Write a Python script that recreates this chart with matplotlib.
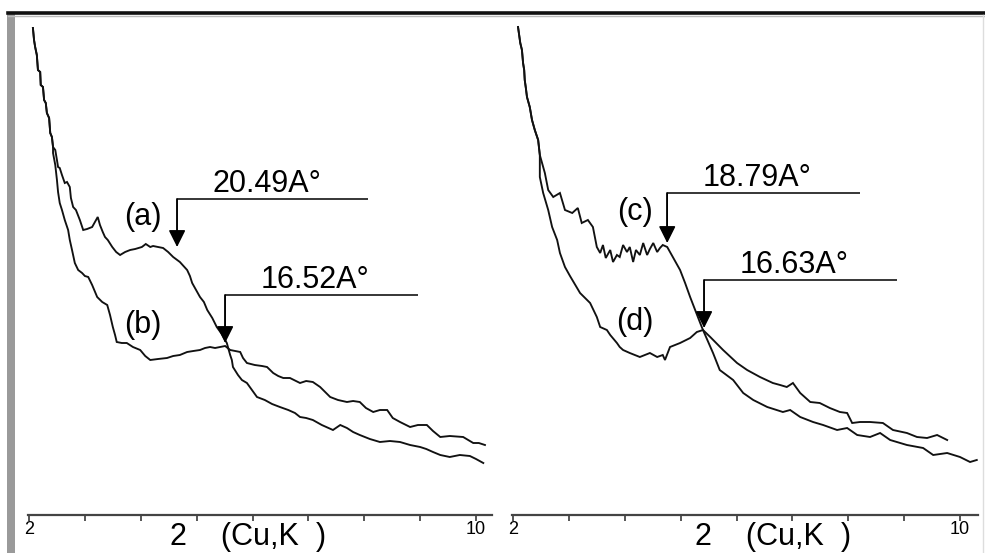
import matplotlib
matplotlib.use("Agg")
import matplotlib.pyplot as plt
from matplotlib.lines import Line2D
from matplotlib.patches import Rectangle

plt.rcParams['font.family'] = ['Liberation Sans', 'DejaVu Sans']

# ---- XRD patterns, 2-theta (deg) vs. intensity (a.u.) ----
# shared low-angle rise of samples (a) and (b)
two_theta_ab_start = [2.07, 2.09, 2.11, 2.14, 2.16, 2.20, 2.21, 2.25, 2.27, 2.30,
                      2.32, 2.36, 2.38, 2.41, 2.43]
intensity_ab_start = [488, 476, 469, 461, 446, 444, 431, 429, 416, 413,
                      403, 398, 383, 379, 369]

two_theta_a = [2.47, 2.50, 2.52, 2.55, 2.59, 2.64, 2.68, 2.73, 2.75, 2.79,
               2.84, 2.91, 2.97, 3.04, 3.13, 3.18, 3.23, 3.27, 3.32, 3.36,
               3.41, 3.49, 3.56, 3.63, 3.72, 3.81, 3.90, 4.02, 4.09, 4.17,
               4.22, 4.31, 4.40, 4.49, 4.58, 4.70, 4.83, 4.88, 4.92, 4.99,
               5.06, 5.13, 5.19, 5.28, 5.36, 5.45, 5.54, 5.60, 5.63, 5.65,
               5.74, 5.81, 5.90, 5.99, 6.08, 6.22, 6.35, 6.49, 6.64, 6.76,
               6.85, 6.96, 7.08, 7.24, 7.44, 7.57, 7.69, 7.80, 7.92, 8.10,
               8.28, 8.46, 8.64, 8.82, 9.00, 9.11, 9.23, 9.36, 9.53, 9.71,
               9.89, 10.00, 10.13]
intensity_a = [366, 356, 349, 348, 341, 333, 334, 329, 318, 309,
               306, 296, 286, 287, 289, 294, 299, 291, 284, 279,
               276, 269, 264, 261, 264, 266, 267, 269, 272, 269,
               270, 269, 268, 264, 259, 254, 246, 240, 233, 226,
               219, 214, 206, 198, 189, 182, 173, 161, 156, 149,
               141, 136, 133, 126, 119, 116, 112, 109, 106, 103,
               99, 98, 96, 91, 86, 91, 88, 84, 81, 77,
               74, 75, 74, 71, 69, 67, 64, 61, 59, 61,
               60, 57, 53]

two_theta_b = [2.43, 2.47, 2.50, 2.52, 2.55, 2.59, 2.64, 2.70, 2.73, 2.77,
               2.82, 2.88, 2.95, 3.00, 3.06, 3.13, 3.22, 3.31, 3.40, 3.45,
               3.50, 3.54, 3.57, 3.66, 3.75, 3.86, 3.99, 4.08, 4.17, 4.31,
               4.47, 4.58, 4.70, 4.83, 4.94, 5.06, 5.15, 5.24, 5.33, 5.42,
               5.51, 5.60, 5.69, 5.78, 5.83, 5.90, 6.04, 6.17, 6.26, 6.37,
               6.46, 6.55, 6.67, 6.85, 6.96, 7.08, 7.21, 7.30, 7.39, 7.53,
               7.69, 7.80, 7.92, 8.03, 8.16, 8.28, 8.41, 8.51, 8.64, 8.82,
               8.96, 9.12, 9.23, 9.36, 9.53, 9.77, 9.86, 9.95, 10.05, 10.16]
intensity_b = [363, 351, 336, 324, 313, 306, 296, 286, 276, 266,
               253, 246, 243, 240, 239, 231, 219, 214, 211, 201,
               189, 181, 174, 173, 173, 169, 166, 160, 156, 157,
               158, 160, 161, 164, 165, 166, 168, 169, 168, 169,
               170, 166, 165, 164, 158, 153, 151, 150, 149, 143,
               140, 138, 138, 133, 135, 134, 129, 124, 119, 116,
               114, 115, 114, 108, 104, 106, 106, 98, 94, 89,
               91, 91, 85, 79, 80, 79, 76, 73, 73, 71]

# shared low-angle rise of samples (c) and (d)
two_theta_cd_start = [2.09, 2.11, 2.13, 2.16, 2.18, 2.20, 2.21, 2.23, 2.25, 2.30,
                      2.34, 2.39, 2.45, 2.48]
intensity_cd_start = [489, 481, 473, 466, 453, 446, 436, 428, 419, 409,
                      396, 386, 376, 361]

two_theta_c = [2.52, 2.57, 2.63, 2.72, 2.84, 2.93, 3.06, 3.16, 3.23, 3.34,
               3.43, 3.50, 3.56, 3.61, 3.66, 3.74, 3.79, 3.86, 3.91, 3.97,
               4.04, 4.09, 4.15, 4.20, 4.27, 4.33, 4.40, 4.45, 4.51, 4.58,
               4.63, 4.68, 4.76, 4.86, 4.99, 5.08, 5.17, 5.26, 5.35, 5.40,
               5.58, 5.70, 5.94, 6.12, 6.30, 6.55, 6.83, 6.96, 7.14, 7.37,
               7.55, 7.80, 7.98, 8.16, 8.39, 8.57, 8.75, 9.05, 9.34, 9.52,
               9.77, 10.00, 10.18, 10.30]
intensity_c = [353, 343, 326, 319, 323, 306, 303, 308, 293, 296,
               289, 269, 263, 271, 258, 266, 254, 261, 259, 271,
               264, 269, 254, 266, 261, 273, 261, 267, 273, 264,
               268, 271, 269, 259, 246, 233, 219, 206, 193, 186,
               163, 146, 136, 123, 116, 109, 104, 106, 99, 94,
               91, 86, 88, 81, 79, 83, 76, 71, 68, 61,
               63, 59, 54, 56]

two_theta_d = [2.48, 2.54, 2.63, 2.70, 2.79, 2.84, 2.93, 3.02, 3.20, 3.38,
               3.50, 3.56, 3.68, 3.74, 3.86, 3.91, 3.97, 4.09, 4.27, 4.45,
               4.58, 4.68, 4.72, 4.81, 4.99, 5.17, 5.29, 5.40, 5.53, 5.76,
               6.01, 6.19, 6.42, 6.65, 6.78, 6.90, 7.01, 7.14, 7.32, 7.49,
               7.67, 7.85, 7.98, 8.07, 8.21, 8.39, 8.62, 8.80, 9.05, 9.23,
               9.41, 9.59, 9.77]
intensity_d = [339, 323, 306, 289, 276, 263, 249, 240, 223, 213,
               199, 189, 186, 181, 173, 169, 166, 163, 159, 163,
               159, 161, 156, 169, 173, 178, 184, 186, 179, 166,
               153, 146, 139, 133, 131, 129, 133, 123, 114, 113,
               108, 104, 103, 93, 94, 94, 93, 86, 83, 79,
               78, 81, 76]

# basal-spacing call-outs: (label, arrow 2-theta, arrow tip, elbow height, line end)
peaks_left = [("20.49A°", 4.65, 269, 317, 8.07),
              ("16.52A°", 5.51, 173, 221, 8.96)]
peaks_right = [("18.79A°", 4.76, 273, 323, 8.21),
               ("16.63A°", 5.42, 188, 236, 8.87)]
sample_labels_left = [("(a)", 4.04, 299), ("(b)", 4.04, 191)]
sample_labels_right = [("(c)", 4.18, 304), ("(d)", 4.18, 194)]

x_ticks = [2, 3, 4, 5, 6, 7, 8, 9, 10]
x_tick_labels = ["2", "", "", "", "", "", "", "", "10"]
x_label = "2    (Cu,K  )"

W, H = 985, 553
fig = plt.figure(figsize=(W / 100, H / 100), dpi=100)
fig.patch.set_facecolor("white")

ax_l = fig.add_axes([28 / W, (H - 515) / H, 464 / W, 500 / H])
ax_r = fig.add_axes([512 / W, (H - 515) / H, 466 / W, 500 / H])

curve_kw = dict(color="#111111", lw=1.35, solid_joinstyle="miter")


def style_axis(ax, xmax, label_x):
    ax.set_xlim(1.982, xmax)
    ax.set_ylim(1, 501)
    for s in ("top", "right", "left"):
        ax.spines[s].set_visible(False)
    ax.spines["bottom"].set_color("#444444")
    ax.spines["bottom"].set_linewidth(1.6)
    ax.set_yticks([])
    ax.set_xticks(x_ticks)
    ax.set_xticklabels(x_tick_labels)
    ax.tick_params(axis="x", direction="out", length=4, width=1.4,
                   color="#555555", labelsize=13, pad=0)
    ax.set_xlabel(x_label, fontsize=22)
    ax.xaxis.set_label_coords(label_x, -0.045)
    ax.xaxis.label.set_verticalalignment("center")
    ax.patch.set_alpha(0)


def draw_callouts(ax, peaks, labels):
    for text, x_tip, y_tip, y_elbow, x_end in peaks:
        ax.plot([x_end, x_tip, x_tip], [y_elbow, y_elbow, y_tip + 14],
                color="black", lw=1.1, solid_capstyle="butt")
        ax.annotate("", xy=(x_tip, y_tip), xytext=(x_tip, y_elbow),
                    arrowprops=dict(arrowstyle="-|>", color="black", lw=1.1,
                                    mutation_scale=26, shrinkA=0, shrinkB=0))
        ax.text(x_tip + 0.63, y_elbow + 7, text, fontsize=22,
                ha="left", va="baseline")
    for text, x, y in labels:
        ax.text(x, y, text, fontsize=22, ha="center", va="center")


# left panel: samples (a) and (b)
ax_l.plot(two_theta_ab_start + two_theta_a, intensity_ab_start + intensity_a, **curve_kw)
ax_l.plot(two_theta_ab_start + two_theta_b, intensity_ab_start + intensity_b, **curve_kw)
style_axis(ax_l, 10.286, 0.474)
draw_callouts(ax_l, peaks_left, sample_labels_left)

# right panel: samples (c) and (d)
ax_r.plot(two_theta_cd_start + two_theta_c, intensity_cd_start + intensity_c, **curve_kw)
ax_r.plot(two_theta_cd_start + two_theta_d, intensity_cd_start + intensity_d, **curve_kw)
style_axis(ax_r, 10.322, 0.56)
draw_callouts(ax_r, peaks_right, sample_labels_right)

# window frame: heavy top rule, grey left bar, faint right edge
fig.add_artist(Rectangle((7 / W, 0), 8 / W, (H - 12) / H, transform=fig.transFigure,
                         facecolor="#9a9a9a", edgecolor="none"))
fig.add_artist(Line2D([8 / W, 1], [(H - 13) / H] * 2, transform=fig.transFigure,
                      color="#111111", lw=2.6))
fig.add_artist(Line2D([8 / W, 1], [(H - 15.5) / H] * 2, transform=fig.transFigure,
                      color="#bbbbbb", lw=1.0))
fig.add_artist(Line2D([983 / W] * 2, [0, (H - 15) / H], transform=fig.transFigure,
                      color="#dddddd", lw=1.0))

fig.savefig("out.png", dpi=100, facecolor="white")
